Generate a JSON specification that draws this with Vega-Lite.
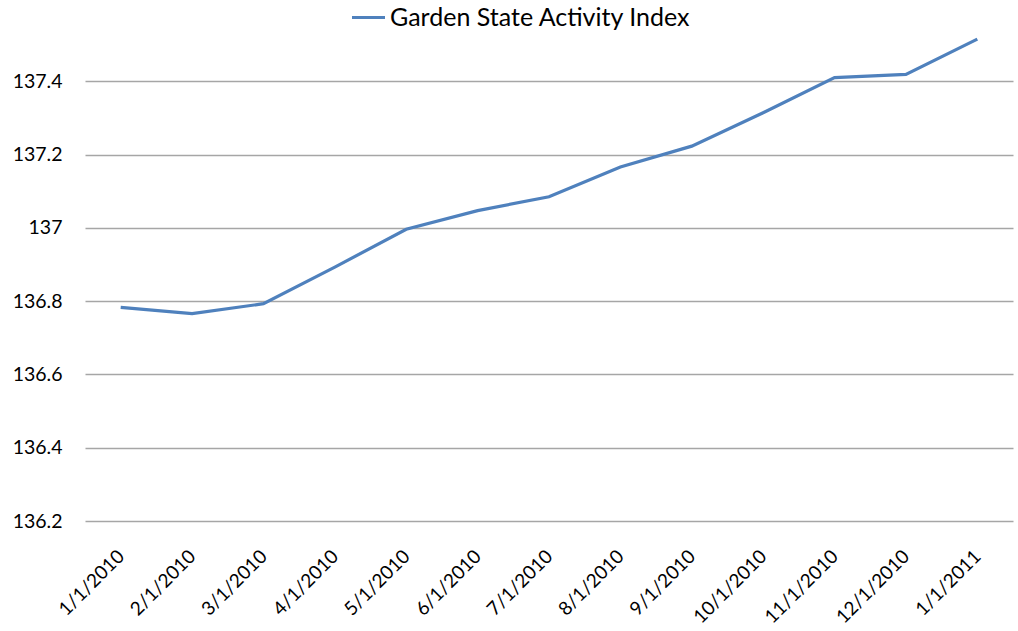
{
  "$schema": "https://vega.github.io/schema/vega-lite/v6.json",
  "width": 928,
  "height": 513,
  "autosize": "none",
  "padding": {"left": 85, "top": 8, "right": 5, "bottom": 110},
  "background": "white",
  "config": {"view": {"stroke": null}, "font": "Lato"},
  "data": {
    "values": [
      {"date": "1/1/2010", "value": 136.783, "series": "Garden State Activity Index"},
      {"date": "2/1/2010", "value": 136.766, "series": "Garden State Activity Index"},
      {"date": "3/1/2010", "value": 136.793, "series": "Garden State Activity Index"},
      {"date": "4/1/2010", "value": 136.893, "series": "Garden State Activity Index"},
      {"date": "5/1/2010", "value": 136.996, "series": "Garden State Activity Index"},
      {"date": "6/1/2010", "value": 137.047, "series": "Garden State Activity Index"},
      {"date": "7/1/2010", "value": 137.085, "series": "Garden State Activity Index"},
      {"date": "8/1/2010", "value": 137.166, "series": "Garden State Activity Index"},
      {"date": "9/1/2010", "value": 137.223, "series": "Garden State Activity Index"},
      {"date": "10/1/2010", "value": 137.314, "series": "Garden State Activity Index"},
      {"date": "11/1/2010", "value": 137.41, "series": "Garden State Activity Index"},
      {"date": "12/1/2010", "value": 137.419, "series": "Garden State Activity Index"},
      {"date": "1/1/2011", "value": 137.515, "series": "Garden State Activity Index"}
    ]
  },
  "mark": {"type": "line", "strokeWidth": 3.2},
  "encoding": {
    "x": {
      "field": "date",
      "type": "ordinal",
      "sort": null,
      "scale": {"type": "point", "padding": 0.5},
      "axis": {
        "title": null,
        "domain": false,
        "ticks": false,
        "grid": false,
        "labelAngle": -45,
        "labelAlign": "right",
        "labelBaseline": "middle",
        "labelPadding": 32,
        "labelFontSize": 19,
        "labelColor": "#000000",
        "labelFont": "Lato"
      }
    },
    "y": {
      "field": "value",
      "type": "quantitative",
      "scale": {"domain": [136.2, 137.6], "nice": false, "zero": false},
      "axis": {
        "title": null,
        "values": [136.2, 136.4, 136.6, 136.8, 137, 137.2, 137.4],
        "labelExpr": "toString(datum.value)",
        "grid": true,
        "gridColor": "#a6a6a6",
        "gridWidth": 1.3,
        "domain": false,
        "ticks": false,
        "labelPadding": 23,
        "labelFontSize": 19.5,
        "labelColor": "#000000",
        "labelFont": "Lato"
      }
    },
    "color": {
      "field": "series",
      "type": "nominal",
      "scale": {"domain": ["Garden State Activity Index"], "range": ["#4f81bd"]},
      "legend": {
        "title": null,
        "orient": "none",
        "legendX": 265,
        "legendY": -9,
        "padding": 0,
        "symbolType": "stroke",
        "symbolSize": 1089,
        "symbolStrokeWidth": 3.2,
        "labelFontSize": 25,
        "labelLimit": 0,
        "labelColor": "#000000",
        "labelFont": "Lato",
        "labelOffset": 3
      }
    }
  }
}
